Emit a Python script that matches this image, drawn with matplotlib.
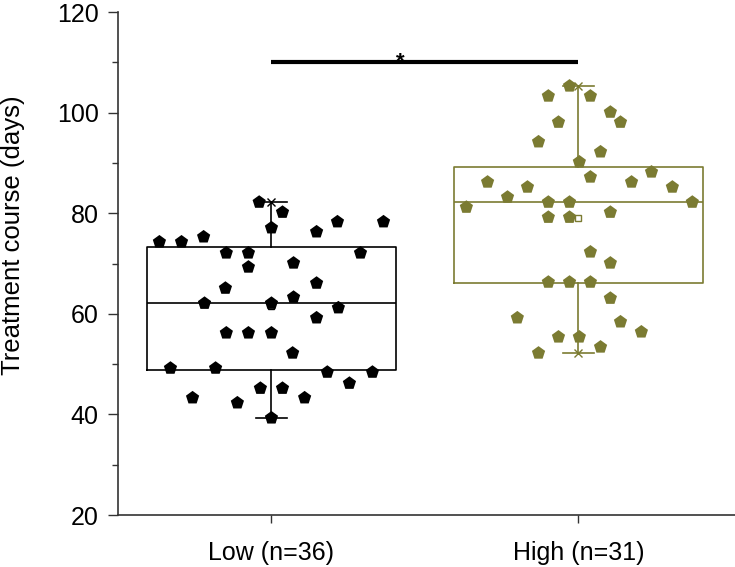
import matplotlib
matplotlib.use("Agg")
import matplotlib.pyplot as plt
from matplotlib.ticker import MultipleLocator

plt.rcParams['font.family'] = ['Liberation Sans', 'DejaVu Sans']

categories = ["Low (n=36)", "High (n=31)"]
colors = ["#000000", "#7b7b32"]

# scatter points: (x offset from group centre, value)
low_offsets = [-0.04, 0.036, 0.0, 0.147, 0.215, 0.365, -0.365, -0.293, -0.221, -0.147,
               -0.075, 0.29, -0.075, 0.072, -0.15, 0.147, -0.218, 0.0, 0.072, 0.218,
               0.147, -0.147, -0.075, 0.0, 0.069, -0.329, -0.182, 0.182, 0.329, 0.254,
               -0.036, 0.036, -0.257, 0.108, -0.111, 0.0]
low_values = [82.2, 80.2, 77.1, 76.3, 78.3, 78.3, 74.3, 74.3, 75.3, 72.1,
              72.1, 72.1, 69.3, 70.1, 65.1, 66.1, 62.1, 62.1, 63.3, 61.2,
              59.2, 56.2, 56.2, 56.2, 52.2, 49.2, 49.2, 48.4, 48.4, 46.2,
              45.2, 45.2, 43.3, 43.3, 42.3, 39.3]

high_offsets = [-0.029, -0.098, 0.039, 0.104, 0.137, -0.065, -0.13, 0.072, 0.003, 0.238,
                0.039, -0.296, 0.173, 0.306, -0.166, -0.231, -0.098, -0.029, 0.371, -0.365,
                -0.098, -0.029, 0.104, 0.039, 0.104, -0.098, -0.029, 0.039, 0.104, -0.199,
                0.137, 0.205, -0.065, 0.003, 0.072, -0.13]
high_values = [105.3, 103.3, 103.3, 100.1, 98.1, 98.1, 94.2, 92.2, 90.2, 88.2,
               87.2, 86.2, 86.2, 85.2, 85.2, 83.2, 82.2, 82.2, 82.2, 81.2,
               79.2, 79.2, 80.2, 72.3, 70.1, 66.3, 66.3, 66.3, 63.1, 59.2,
               58.4, 56.4, 55.4, 55.4, 53.4, 52.2]

# box statistics
q1 = [48.8, 66.1]
median = [62.1, 82.2]
q3 = [73.3, 89.2]
whislo = [39.3, 52.2]
whishi = [82.2, 105.3]
means = [61.5, 79.0]

sig_y = 110
sig_x = 1.42
sig_text = "*"

fig = plt.figure(figsize=(7.35, 5.67), dpi=100)
ax = fig.add_axes([0.1605, 0.0917, 0.8395, 0.887])

positions = [1, 2]
for i in range(2):
    stats = [dict(med=median[i], q1=q1[i], q3=q3[i], whislo=whislo[i], whishi=whishi[i],
                  mean=means[i], fliers=[])]
    c = colors[i]
    ax.bxp(stats, positions=[positions[i]], widths=0.81, showmeans=True, showfliers=False,
           boxprops=dict(color=c, linewidth=1.2),
           medianprops=dict(color=c, linewidth=1.2),
           whiskerprops=dict(color=c, linewidth=1.2),
           capprops=dict(color=c, linewidth=1.2),
           capwidths=0.1,
           meanprops=dict(marker='s', markerfacecolor='white', markeredgecolor=c,
                          markersize=4.5, markeredgewidth=1.0),
           zorder=2)
    ax.plot([positions[i], positions[i]], [whislo[i], whishi[i]], linestyle='none',
            marker='x', color=c, markersize=6, markeredgewidth=1.0, zorder=2)

ax.scatter([positions[0] + o for o in low_offsets], low_values, marker='p', s=100,
           color=colors[0], edgecolors='none', zorder=3)
ax.scatter([positions[1] + o for o in high_offsets], high_values, marker='p', s=100,
           color=colors[1], edgecolors='none', zorder=3)

# significance bar
ax.plot([positions[0], positions[1]], [sig_y, sig_y], color='black', linewidth=3,
        solid_capstyle='butt', zorder=4)
ax.text(sig_x, sig_y - 2.0, sig_text, ha='center', va='bottom',
        fontsize=16, fontweight='bold', color='black', zorder=5)

ax.set_xlim(0.5, 2.51)
ax.set_ylim(20, 120)
ax.set_xticks(positions)
ax.set_xticklabels(categories, fontsize=18)
ax.yaxis.set_major_locator(MultipleLocator(20))
ax.yaxis.set_minor_locator(MultipleLocator(10))
ax.tick_params(axis='y', which='major', labelsize=18, length=7, width=1, color='#333333', pad=7)
ax.tick_params(axis='y', which='minor', length=4, width=1, color='#333333')
ax.tick_params(axis='x', length=6, width=1, color='#333333', pad=13)
ax.set_ylabel("Treatment course (days)", fontsize=18.5)
ax.yaxis.set_label_coords(-0.151, 0.557)

for s in ['top', 'right']:
    ax.spines[s].set_visible(False)
for s in ['left', 'bottom']:
    ax.spines[s].set_color('#333333')
    ax.spines[s].set_linewidth(1.2)

fig.savefig("out.png", dpi=100)
